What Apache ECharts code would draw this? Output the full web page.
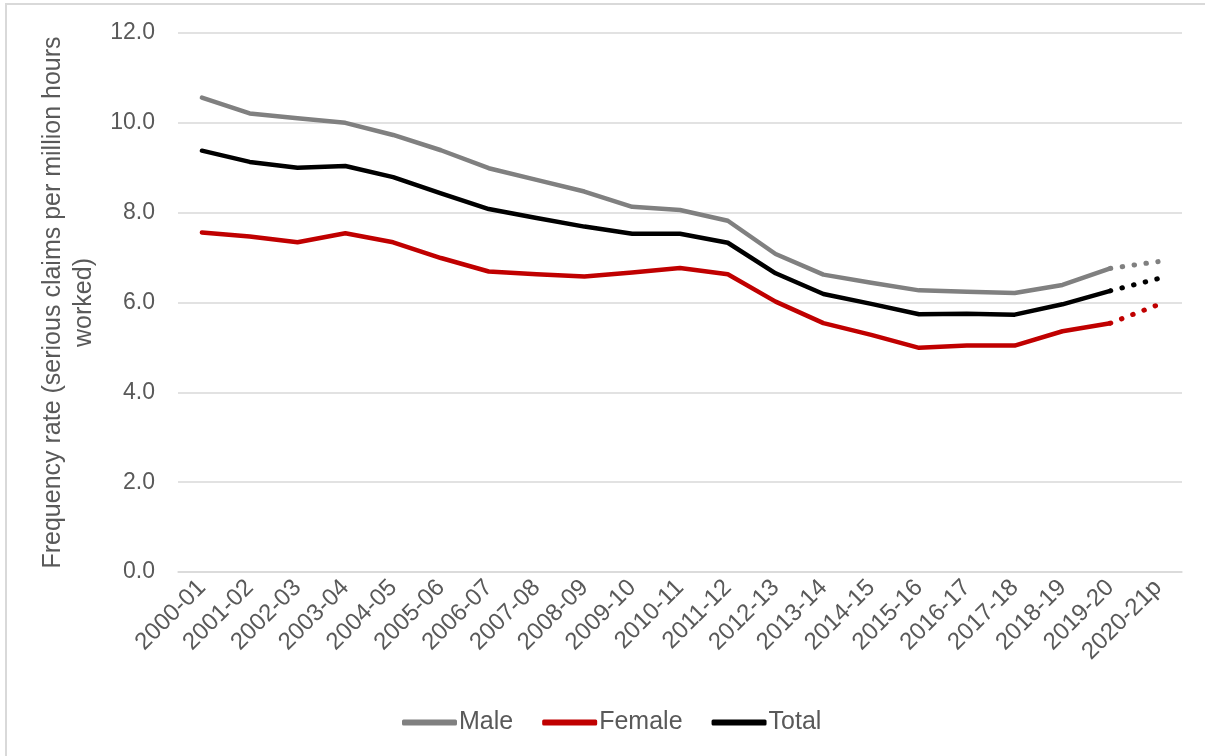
<!DOCTYPE html>
<html>
<head>
<meta charset="utf-8">
<script src="https://cdn.jsdelivr.net/npm/echarts@6/dist/echarts.min.js"></script>
<style>
  html, body { margin: 0; padding: 0; background: #fff; }
  #chart { width: 1205px; height: 756px; }
</style>
</head>
<body>
<div id="chart"></div>
<script>
var years = ['2000-01', '2001-02', '2002-03', '2003-04', '2004-05', '2005-06', '2006-07',
    '2007-08', '2008-09', '2009-10', '2010-11', '2011-12', '2012-13', '2013-14', '2014-15',
    '2015-16', '2016-17', '2017-18', '2018-19', '2019-20', '2020-21p'];
var male = [10.56, 10.21, 10.10, 10.00, 9.73, 9.39, 8.99, 8.73, 8.47, 8.13, 8.06,
    7.82, 7.08, 6.62, 6.44, 6.27, 6.24, 6.21, 6.39, 6.76, 6.91];
var female = [7.56, 7.47, 7.34, 7.54, 7.34, 6.99, 6.69, 6.63, 6.58, 6.67, 6.77,
    6.63, 6.02, 5.54, 5.28, 4.99, 5.04, 5.04, 5.36, 5.54, 5.95];
var total = [9.38, 9.13, 9.00, 9.04, 8.79, 8.43, 8.08, 7.88, 7.69, 7.53, 7.53,
    7.33, 6.65, 6.19, 5.97, 5.74, 5.75, 5.73, 5.96, 6.26, 6.53];
var yTicks = [0, 2, 4, 6, 8, 10, 12];

// last point (2020-21p) is provisional -> drawn dotted
var lastIdx = years.length - 1;
function solidPart(arr) {
    return arr.map(function (v, i) { return i < lastIdx ? v : null; });
}
function dottedPart(arr) {
    return arr.map(function (v, i) { return i >= lastIdx - 1 ? v : null; });
}

var font = "'Liberation Sans', Arial, sans-serif";
var textColor = '#595959';

function lineSeries(name, data, color) {
    return {
        name: name,
        type: 'line',
        data: solidPart(data),
        symbol: 'none',
        lineStyle: { color: color, width: 4.5, cap: 'round', join: 'round' },
        itemStyle: { color: color },
        z: 3
    };
}
function dotSeries(name, data, color) {
    return {
        name: name + ' (p)',
        type: 'line',
        data: dottedPart(data),
        symbol: 'none',
        lineStyle: { color: color, width: 5, type: [0.5, 11.5], cap: 'round' },
        itemStyle: { color: color },
        z: 2
    };
}

var chart = echarts.init(document.getElementById('chart'));
var option = {
    animation: false,
    backgroundColor: '#fff',
    textStyle: { fontFamily: font },
    graphic: [{
        type: 'rect',
        shape: { x: 6, y: 4, width: 1300, height: 900 },
        style: { fill: 'none', stroke: '#d9d9d9', lineWidth: 2 },
        silent: true
    }],
    grid: { left: 178, right: 23, top: 33, bottom: 184 },
    legend: {
        data: ['Male', 'Female', 'Total'],
        left: 402,
        top: 710,
        padding: 0,
        icon: 'roundRect',
        itemWidth: 55,
        itemHeight: 6,
        itemGap: 29,
        textStyle: { fontSize: 25, color: textColor, fontFamily: font, padding: [0, 0, 0, -3] }
    },
    xAxis: {
        type: 'category',
        data: years,
        boundaryGap: true,
        axisLine: { lineStyle: { color: '#d9d9d9', width: 1.5 } },
        axisTick: { show: false },
        axisLabel: {
            interval: 0,
            rotate: 45,
            fontSize: 24,
            color: textColor,
            fontFamily: font,
            margin: 12
        }
    },
    yAxis: {
        type: 'value',
        min: yTicks[0],
        max: yTicks[yTicks.length - 1],
        interval: 2,
        name: 'Frequency rate (serious claims per million hours\nworked)',
        nameLocation: 'middle',
        nameRotate: 90,
        nameGap: 76,
        nameTextStyle: { fontSize: 25, color: textColor, fontFamily: font, lineHeight: 31, align: 'center' },
        axisLine: { show: false },
        axisTick: { show: false },
        splitLine: { lineStyle: { color: '#d9d9d9', width: 1.5 } },
        axisLabel: {
            fontSize: 23,
            color: textColor,
            fontFamily: font,
            margin: 23,
            formatter: function (v) { return v.toFixed(1); }
        }
    },
    series: [
        lineSeries('Male', male, '#808080'),
        lineSeries('Female', female, '#c00000'),
        lineSeries('Total', total, '#000000'),
        dotSeries('Male', male, '#808080'),
        dotSeries('Female', female, '#c00000'),
        dotSeries('Total', total, '#000000')
    ]
};
chart.setOption(option);
</script>
</body>
</html>
